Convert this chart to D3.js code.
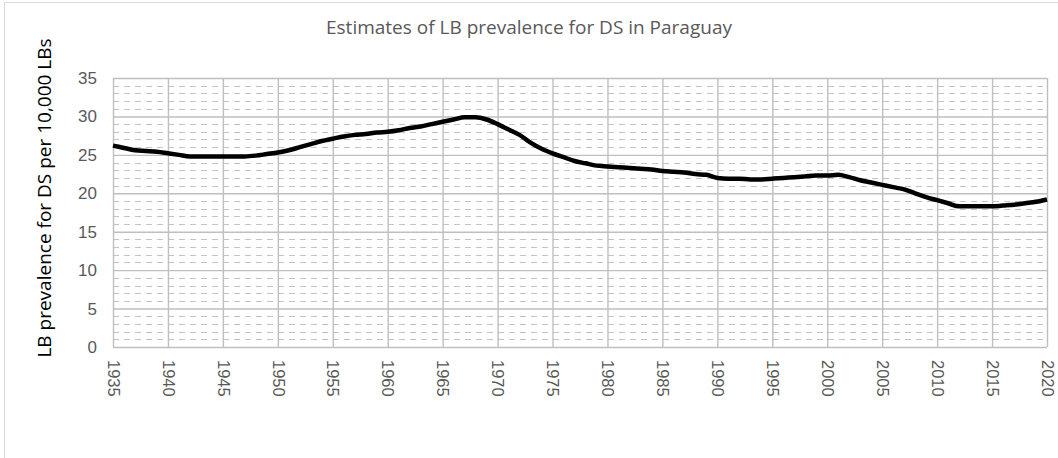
<!DOCTYPE html>
<html>
<head>
<meta charset="utf-8">
<script src="https://cdn.jsdelivr.net/npm/d3@7"></script>
<style>
  body { margin: 0; background: #fff; }
  svg { display: block; font-family: "Open Sans", "Liberation Sans", sans-serif; }
</style>
</head>
<body>
<div id="chart"></div>
<script>
// Years 1935..2020, one value per year
const years = d3.range(1935, 2021);
const prevalence = [
  26.2, 25.9, 25.6, 25.5, 25.4, 25.2, 25.0, 24.8, 24.8, 24.8,
  24.8, 24.8, 24.8, 24.9, 25.1, 25.3, 25.6, 26.0, 26.4, 26.8,
  27.1, 27.4, 27.6, 27.7, 27.9, 28.0, 28.2, 28.5, 28.7, 29.0,
  29.3, 29.6, 29.9, 29.9, 29.6, 29.0, 28.3, 27.6, 26.6, 25.8,
  25.2, 24.7, 24.2, 23.9, 23.6, 23.5, 23.4, 23.3, 23.2, 23.1,
  22.9, 22.8, 22.7, 22.5, 22.4, 22.0, 21.9, 21.9, 21.8, 21.8,
  21.9, 22.0, 22.1, 22.2, 22.3, 22.3, 22.4, 22.1, 21.7, 21.4,
  21.1, 20.8, 20.5, 20.0, 19.5, 19.1, 18.7, 18.3, 18.3, 18.3,
  18.3, 18.4, 18.5, 18.7, 18.9, 19.2
];
const xTicks = d3.range(1935, 2021, 5);
const yTicks = d3.range(0, 36, 5);
const yMinor = d3.range(1, 35).filter(v => v % 5 !== 0);

const title = 'Estimates of LB prevalence for DS in Paraguay';
const yTitle = 'LB prevalence for DS per 10,000 LBs';

const width = 1058, height = 458;
const margin = {top: 78, right: 11, bottom: 111, left: 113};
const innerW = width - margin.left - margin.right;
const innerH = height - margin.top - margin.bottom;

const data = years.map((y, i) => ({year: y, value: prevalence[i]}));

const svg = d3.select('#chart').append('svg')
    .attr('width', width)
    .attr('height', height);

// outer chart frame (only top/left edges visible in the picture)
svg.append('rect')
    .attr('x', 4.5).attr('y', 2.5)
    .attr('width', width + 20).attr('height', height + 20)
    .attr('fill', 'none')
    .attr('stroke', '#d9d9d9');

const xScale = d3.scaleLinear().domain([1935, 2020]).range([0, innerW]);
const yScale = d3.scaleLinear().domain([0, 35]).range([innerH, 0]);

const chart = svg.append('g')
    .attr('transform', `translate(${margin.left},${margin.top})`);

// minor dashed gridlines
chart.append('g')
  .selectAll('line')
  .data(yMinor)
  .join('line')
    .attr('x1', 0).attr('x2', innerW)
    .attr('y1', d => Math.round(yScale(d)) + 0.5)
    .attr('y2', d => Math.round(yScale(d)) + 0.5)
    .attr('stroke', '#c4c4c4')
    .attr('stroke-width', 1.2)
    .attr('stroke-dasharray', '6,5');

// major gridlines via axes
const yAxis = d3.axisLeft(yScale)
    .tickValues(yTicks)
    .tickSize(-innerW)
    .tickPadding(16);

const xAxis = d3.axisBottom(xScale)
    .tickValues(xTicks)
    .tickFormat(d3.format('d'))
    .tickSize(-innerH);

const yAxisG = chart.append('g')
    .call(yAxis)
    .call(g => g.select('.domain').remove());
yAxisG.selectAll('.tick line')
    .attr('stroke', '#bfbfbf')
    .attr('stroke-width', 1.4);
yAxisG.selectAll('.tick text')
    .attr('fill', '#595959')
    .style('font-size', '17px');

const xAxisG = chart.append('g')
    .attr('transform', `translate(0,${innerH})`)
    .call(xAxis)
    .call(g => g.select('.domain').remove());
xAxisG.selectAll('.tick line')
    .attr('stroke', '#bfbfbf')
    .attr('stroke-width', 1.4);
xAxisG.selectAll('.tick text')
    .attr('fill', '#595959')
    .style('font-size', '16.5px')
    .attr('text-anchor', 'start')
    .attr('dy', '0.35em')
    .attr('y', 0)
    .attr('transform', 'translate(0,13) rotate(90)');

// the series
const line = d3.line()
    .x(d => xScale(d.year))
    .y(d => yScale(d.value))
    .curve(d3.curveMonotoneX);

chart.append('path')
    .datum(data)
    .attr('fill', 'none')
    .attr('stroke', '#000')
    .attr('stroke-width', 4.5)
    .attr('stroke-linejoin', 'round')
    .attr('d', line);

// titles
svg.append('text')
    .attr('x', 529)
    .attr('y', 34)
    .attr('text-anchor', 'middle')
    .attr('fill', '#595959')
    .style('font-size', '19px')
    .text(title);

svg.append('text')
    .attr('transform', 'translate(51,198) rotate(-90)')
    .attr('text-anchor', 'middle')
    .attr('fill', '#000')
    .style('font-size', '19px')
    .text(yTitle);
</script>
</body>
</html>
